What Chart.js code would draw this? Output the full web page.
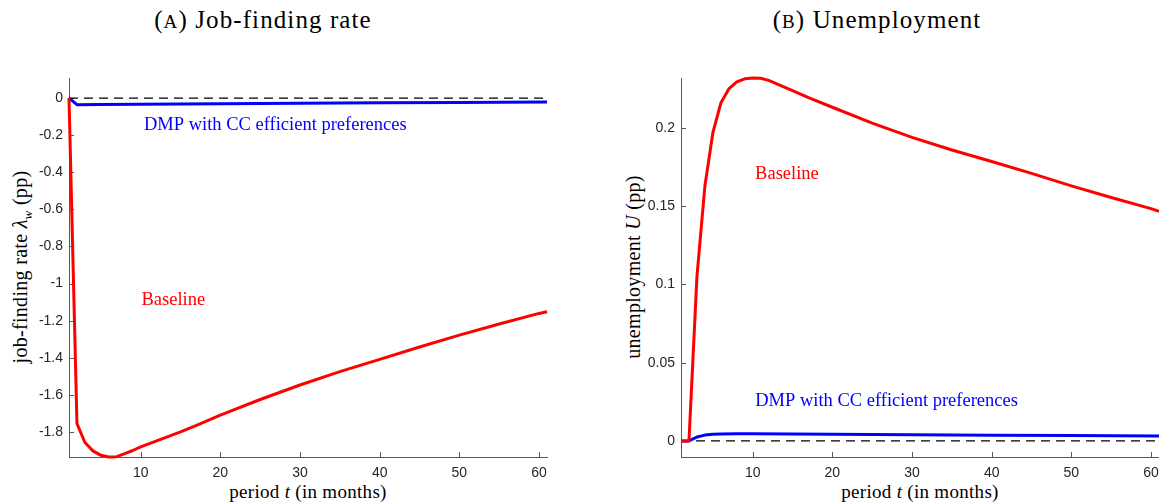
<!DOCTYPE html>
<html>
<head>
<meta charset="utf-8">
<script src="https://cdn.jsdelivr.net/npm/chart.js@4"></script>
<style>
  body { margin: 0; background: #fff; }
  #wrap { position: relative; width: 1159px; height: 502px; overflow: hidden; font-family: "Liberation Serif", serif; color: #000; }
  canvas { position: absolute; top: 0; }
  .title { position: absolute; top: 20px; transform: translate(-50%, -50%); font-size: 25px; letter-spacing: 1.1px; white-space: nowrap; }
  .sc { font-size: 19px; }
  .xlab { position: absolute; top: 492px; transform: translate(-50%, -50%); font-size: 19px; letter-spacing: 0.3px; white-space: nowrap; }
  .ylab { position: absolute; top: 267px; transform: translate(-50%, -50%) rotate(-90deg); font-size: 20px; letter-spacing: 0.3px; white-space: nowrap; }
  .ylab sub { font-size: 13px; }
</style>
</head>
<body>
<div id="wrap">
  <div class="title" style="left:263px">(<span class="sc">A</span>) Job-finding rate</div>
  <div class="title" style="left:877px">(<span class="sc">B</span>) Unemployment</div>
  <div class="ylab" style="left:22px">job-finding rate <i>λ<sub>w</sub></i> (pp)</div>
  <div class="ylab" style="left:633px">unemployment <i>U</i> (pp)</div>
  <div class="xlab" style="left:308px">period <i>t</i> (in months)</div>
  <div class="xlab" style="left:920px">period <i>t</i> (in months)</div>
  <canvas id="jobChart" width="560" height="502" style="left:0;width:560px;height:502px"></canvas>
  <canvas id="unempChart" width="547" height="502" style="left:612px;width:547px;height:502px"></canvas>
</div>
<script>
// months on the x axis
const monthTicks = [10, 20, 30, 40, 50, 60];
const zeroT = [1, 61];
const zeroLine = [0, 0];

// (A) job-finding rate, pp
const tJob = [1, 2, 3, 4, 5, 6, 7, 8, 9, 10, 12, 15, 17, 20, 25, 30, 35, 40, 45, 50, 55, 60, 61];
const jobBaseline = [0, -1.755, -1.857, -1.902, -1.926, -1.935, -1.933, -1.917, -1.90, -1.88, -1.848, -1.80, -1.765, -1.709, -1.625, -1.547, -1.475, -1.409, -1.342, -1.278, -1.218, -1.161, -1.152];
const tJobDmp = [1, 2, 5, 10, 20, 30, 40, 50, 61];
const jobDmp = [0, -0.036, -0.035, -0.034, -0.031, -0.028, -0.026, -0.024, -0.022];
const jobTicks = [-1.8, -1.6, -1.4, -1.2, -1, -0.8, -0.6, -0.4, -0.2, 0];

// (B) unemployment, pp
const tUnemp = [1, 2, 3, 4, 5, 6, 7, 8, 9, 10, 11, 12, 15, 17, 20, 25, 30, 35, 40, 45, 50, 55, 60, 61];
const unempBaseline = [0, 0, 0.105, 0.163, 0.197, 0.216, 0.225, 0.2295, 0.2315, 0.232, 0.2318, 0.2305, 0.224, 0.2195, 0.2133, 0.2032, 0.194, 0.186, 0.1786, 0.171, 0.163, 0.1556, 0.1485, 0.1468];
const tUnempDmp = [1, 2, 3, 4, 5, 6, 8, 10, 20, 30, 40, 50, 61];
const unempDmp = [0, 0, 0.0025, 0.0037, 0.0042, 0.0044, 0.0045, 0.0045, 0.0042, 0.0039, 0.0036, 0.0034, 0.0032];
const unempTicks = [0, 0.05, 0.1, 0.15, 0.2];

const RED = '#ff0000';
const BLUE = '#0000ff';
const AXIS = '#5a5a5a';
const TICK_FONT = { family: '"Liberation Sans", Arial, sans-serif', size: 14 };

function toPoints(xs, ys) {
    return xs.map((x, i) => ({ x: x, y: ys[i] }));
}

// MATLAB style ticks pointing into the plot
const inwardTicks = {
    id: 'inwardTicks',
    beforeDatasetsDraw(chart) {
        const { ctx, scales: { x, y } } = chart;
        ctx.save();
        ctx.strokeStyle = AXIS;
        ctx.lineWidth = 1;
        ctx.beginPath();
        x.ticks.forEach(t => {
            const px = Math.round(x.getPixelForValue(t.value)) + 0.5;
            ctx.moveTo(px, x.top);
            ctx.lineTo(px, x.top - 5);
        });
        y.ticks.forEach(t => {
            const py = Math.round(y.getPixelForValue(t.value)) + 0.5;
            ctx.moveTo(y.right, py);
            ctx.lineTo(y.right + 5, py);
        });
        ctx.stroke();
        ctx.restore();
    }
};

// text labels placed in data coordinates
function notesPlugin(notes) {
    return {
        id: 'notes',
        afterDatasetsDraw(chart) {
            const { ctx, scales: { x, y } } = chart;
            ctx.save();
            ctx.font = '18.5px "Liberation Serif", serif';
            ctx.textAlign = 'center';
            ctx.textBaseline = 'middle';
            notes.forEach(n => {
                ctx.fillStyle = n.color;
                ctx.fillText(n.text, x.getPixelForValue(n.x), y.getPixelForValue(n.y));
            });
            ctx.restore();
        }
    };
}

function makeChart(id, cfg) {
    const ctx = document.getElementById(id).getContext('2d');
    return new Chart(ctx, {
        type: 'line',
        data: {
            datasets: [
                {
                    data: toPoints(zeroT, zeroLine),
                    borderColor: '#000', borderWidth: 1.3, borderDash: [9, 6],
                    pointRadius: 0, order: 3
                },
                {
                    data: toPoints(cfg.tBase, cfg.base),
                    borderColor: RED, borderWidth: 3, pointRadius: 0,
                    borderJoinStyle: 'round', clip: false, order: 1
                },
                {
                    data: toPoints(cfg.tDmp, cfg.dmp),
                    borderColor: BLUE, borderWidth: 3, pointRadius: 0,
                    borderJoinStyle: 'round', clip: false, order: 2
                }
            ]
        },
        options: {
            responsive: false,
            animation: false,
            events: [],
            layout: { padding: { left: 0, top: 78, right: cfg.padRight, bottom: 0 } },
            plugins: { legend: { display: false }, tooltip: { enabled: false } },
            scales: {
                x: {
                    type: 'linear', min: 1, max: 61,
                    grid: { display: false, drawTicks: false },
                    border: { display: true, color: AXIS, width: 1 },
                    afterBuildTicks: s => { s.ticks = monthTicks.map(v => ({ value: v })); },
                    afterFit: s => { s.height = 45; s.paddingLeft = 0; s.paddingRight = 0; },
                    ticks: { font: TICK_FONT, color: '#262626', padding: 8, maxRotation: 0, callback: v => String(v) }
                },
                y: {
                    type: 'linear', min: cfg.yMin, max: cfg.yMax,
                    grid: { display: false, drawTicks: false },
                    border: { display: true, color: AXIS, width: 1 },
                    afterBuildTicks: s => { s.ticks = cfg.yTicks.map(v => ({ value: v })); },
                    afterFit: s => { s.width = 69; s.paddingTop = 0; s.paddingBottom = 0; },
                    ticks: { font: TICK_FONT, color: '#262626', padding: 6, callback: v => String(v) }
                }
            }
        },
        plugins: [inwardTicks, notesPlugin(cfg.notes)]
    });
}

makeChart('jobChart', {
    tBase: tJob, base: jobBaseline, tDmp: tJobDmp, dmp: jobDmp,
    yMin: -1.935, yMax: 0.108, yTicks: jobTicks, padRight: 13,
    notes: [
        { text: 'DMP with CC efficient preferences', x: 26.9, y: -0.146, color: BLUE },
        { text: 'Baseline', x: 14.1, y: -1.09, color: RED }
    ]
});

makeChart('unempChart', {
    tBase: tUnemp, base: unempBaseline, tDmp: tUnempDmp, dmp: unempDmp,
    yMin: -0.0103, yMax: 0.232, yTicks: unempTicks, padRight: 0,
    notes: [
        { text: 'Baseline', x: 14.3, y: 0.1705, color: RED },
        { text: 'DMP with CC efficient preferences', x: 26.8, y: 0.0256, color: BLUE }
    ]
});
</script>
</body>
</html>
